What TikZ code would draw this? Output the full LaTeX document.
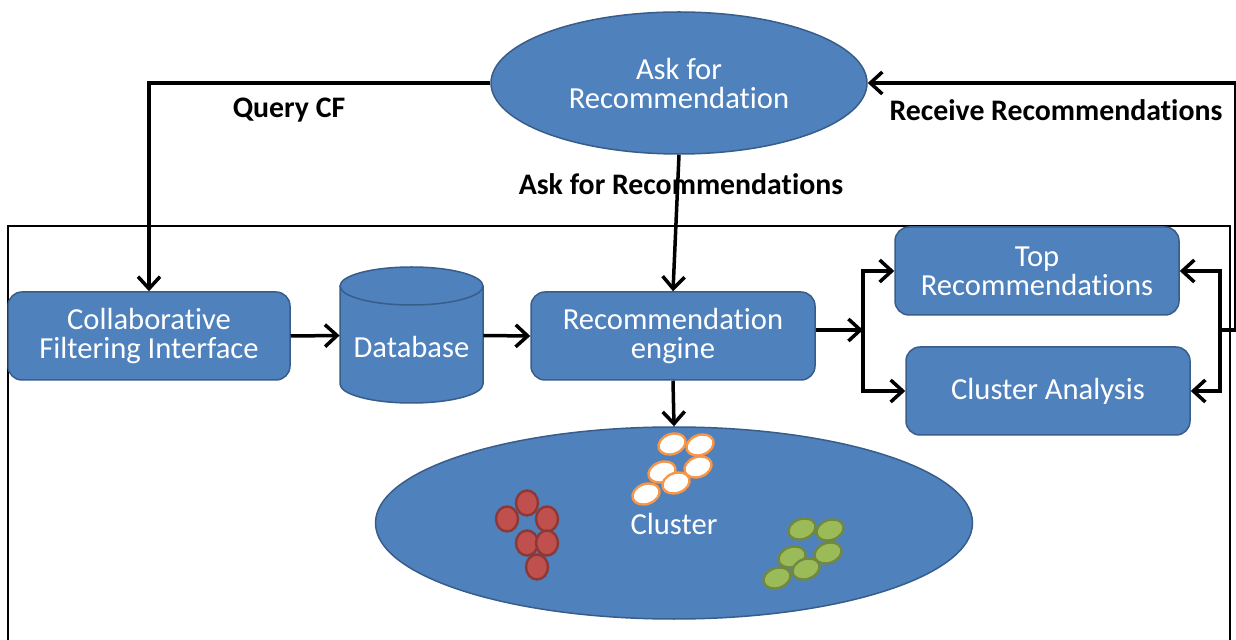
\documentclass[tikz,border=0pt]{standalone}
\usepackage{fontspec}
\setmainfont[RawFeature={-liga;-clig;-calt;-dlig}]{Carlito}
\usetikzlibrary{shapes.geometric,arrows.meta}
\definecolor{bfill}{HTML}{4F81BD}
\definecolor{bdraw}{HTML}{385D8A}
\definecolor{rfill}{HTML}{C0504D}
\definecolor{rdraw}{HTML}{8C3836}
\definecolor{gfill}{HTML}{9BBB59}
\definecolor{gdraw}{HTML}{71893F}
\definecolor{odraw}{HTML}{F79646}
\tikzset{
  wtxt/.style={text=white, font=\fontsize{15.3}{14.5}\selectfont},
  box/.style={draw=bdraw, fill=bfill, line width=0.75pt, rounded corners=7pt, minimum width=142pt, minimum height=44pt, inner sep=0pt, align=center, wtxt},
  bell/.style={ellipse, draw=bdraw, fill=bfill, line width=0.75pt, inner sep=0pt, align=center, wtxt},
  lbl/.style={font=\bfseries\fontsize{14.9}{14.9}\selectfont, text=black},
  conn/.style={line width=1.75pt, -{Straight Barb[length=6pt,width=11pt]}},
  frame/.style={line width=1pt},
  dot/.style={line width=1.2pt},
}
\begin{document}
\begin{tikzpicture}[x=0.5pt,y=-0.5pt]
\useasboundingbox (0,0) rectangle (1236,640);
\clip (0,0) rectangle (1236,640);
\fill[white] (0,0) rectangle (1236,640);
% frame
\draw[frame] (8,226) rectangle (1230,680);
% nodes
\node[bell, minimum width=188pt, minimum height=71pt] (ask) at (679,83) {Ask for\\Recommendation};
\node[box, minimum width=141pt] (cf) at (149,336) {Collaborative\\Filtering Interface};
\node[box] (eng) at (673,336) {Recommendation\\engine};
\node[box] (top) at (1037,271) {Top\\Recommendations};
\node[box] (ca) at (1048,391) {Cluster Analysis};
% database cylinder
\node[minimum width=71.5pt, minimum height=67.5pt, inner sep=0pt] (db) at (411.5,335.5) {};
\draw[draw=bdraw, fill=bfill, line width=0.75pt] (340,286) -- (340,384) arc[start angle=180, end angle=360, x radius=71.5, y radius=-19] -- (483,286) arc[start angle=0, end angle=180, x radius=71.5, y radius=-19] -- cycle;
\draw[draw=bdraw, line width=0.75pt] (340,286) arc[start angle=180, end angle=360, x radius=71.5, y radius=-19];
\node[wtxt] (dbtxt) at (411.5,347) {Database};
% cluster ellipse
\node[bell, minimum width=298.5pt, minimum height=96pt] (cl) at (674,523) {};
\node[wtxt] (cltxt) at (674,524) {Cluster};
% orange
\foreach \p in {(672,444),(700,445),(662,472),(698,467),(676,483),(646,494)}
  \draw[dot, draw=odraw, fill=white, rotate around={20:\p}] \p ellipse (14 and 10);
% red
\foreach \p in {(527,503),(507,519),(547,519),(527,543),(547,543),(537,567)}
  \draw[dot, draw=rdraw, fill=rfill] \p ellipse (11 and 12.5);
% green
\foreach \p in {(802,529),(830,530),(792,557),(828,553),(806,569),(777,578)}
  \draw[dot, draw=gdraw, fill=gfill, rotate around={20:\p}] \p ellipse (14 and 10);
% labels
\node[lbl] (lq) at (289,110) {Query CF};
\node[lbl] (lr) at (1056,110) {Receive Recommendations};
\node[lbl] (la) at (681,184) {Ask for Recommendations};
% connectors
\coordinate (bl) at (863,330);
\coordinate (br) at (1220,330);
\coordinate (edge) at (1236,330);
\draw[conn] (ask.west) -| (cf.north);
\draw[conn] (ask.south) -- (eng.north);
\draw[conn] (cf.east) -- (db.west);
\draw[conn] (db.east) -- (eng.west);
\draw[conn] (eng.east |- bl) -- (bl);
\draw[conn] (bl) |- (top.west);
\draw[conn] (bl) |- (ca.west);
\draw[conn] (br) |- (top.east);
\draw[conn] (br) |- (ca.east);
\draw[conn] (br) -- (edge) |- (ask.east);
\draw[conn] (eng.south) -- (cl.north);
\end{tikzpicture}
\end{document}
